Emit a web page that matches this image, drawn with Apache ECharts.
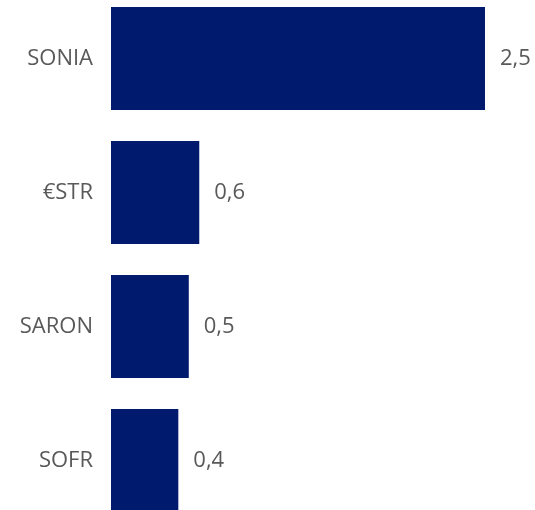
<!DOCTYPE html>
<html>
<head>
<meta charset="utf-8">
<script src="https://cdn.jsdelivr.net/npm/echarts@6/dist/echarts.min.js"></script>
<style>html,body{margin:0;padding:0;background:#fff}#c{width:535px;height:510px}</style>
</head>
<body>
<div id="c"></div>
<script>
const categories = ['SONIA', '€STR', 'SARON', 'SOFR'];
const values = [2.5, 0.59, 0.52, 0.45];
const valueLabels = ['2,5', '0,6', '0,5', '0,4'];

const chart = echarts.init(document.getElementById('c'));
chart.setOption({
  animation: false,
  grid: { left: 111, right: 50, top: -8.5, height: 536, outerBoundsMode: 'none', containLabel: false },
  xAxis: { type: 'value', min: 0, max: 2.5, show: false },
  yAxis: {
    type: 'category', data: categories, inverse: true,
    axisLine: { show: false }, axisTick: { show: false },
    axisLabel: { color: '#595959', fontSize: 22, fontFamily: 'Open Sans', margin: 18 }
  },
  series: [{
    type: 'bar', data: values, barCategoryGap: '23%',
    itemStyle: { color: '#001A6E' },
    label: {
      show: true, position: 'right', distance: 15,
      color: '#595959', fontSize: 22, fontFamily: 'Open Sans',
      formatter: p => valueLabels[p.dataIndex]
    }
  }]
});
</script>
</body>
</html>
